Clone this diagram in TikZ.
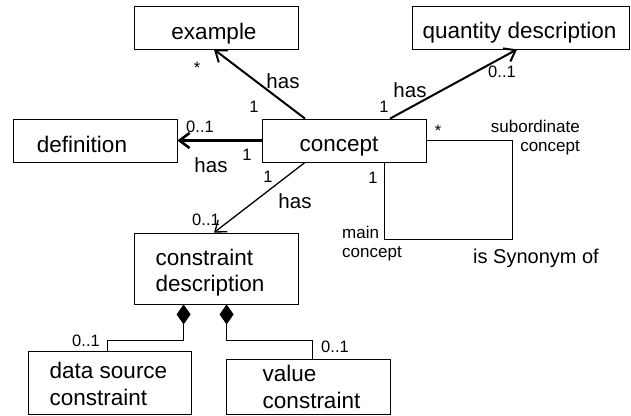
\documentclass[tikz,border=0pt]{standalone}
\usepackage{fontspec}
\setmainfont{Liberation Sans}
\usetikzlibrary{arrows.meta,calc}

% class name inside a box: #1 = twice the horizontal offset, #2 = raise of the first baseline
\newcommand\boxlabel[3]{\raisebox{#2}[0pt][0pt]{\makebox[0pt]{\hspace*{#1}\begin{tabular}[t]{@{}l@{}}#3\end{tabular}}}}

\tikzset{
  classbox/.style={draw, line width=0.8pt, minimum width=164pt, minimum height=43pt,
    inner sep=0pt, font=\fontsize{22.5}{26.7}\selectfont},
  mult/.style={font=\fontsize{16.5}{19}\selectfont, inner sep=0pt, anchor=base},
  assoclabel/.style={font=\fontsize{20.5}{24}\selectfont, inner sep=0pt, anchor=base},
  rolelabel/.style={font=\fontsize{17}{18.5}\selectfont, inner sep=0pt},
  assoc/.style={-{Straight Barb[length=10pt,width=15pt]}},
  compose/.style={{Diamond[length=20pt,width=14pt,fill=black]}-, line width=0.8pt},
}

\begin{document}
\begin{tikzpicture}[x=1pt,y=-1pt]
\useasboundingbox (0,0) rectangle (631,415);

% classes
\node[classbox] (ex) at (216,27.5) {\boxlabel{-4pt}{-11.8pt}{example}};
\node[classbox, minimum width=217pt] (qd) at (520.5,27.5) {\boxlabel{-2pt}{-11pt}{quantity description}};
\node[classbox] (def) at (95,140.5) {\boxlabel{-26pt}{-11.8pt}{definition}};
\node[classbox] (con) at (344,140.5) {\boxlabel{-10pt}{-11.2pt}{concept}};
\node[classbox, minimum height=71pt] (cd) at (216,268.5) {\boxlabel{-12pt}{3.5pt}{constraint\\description}};
\node[classbox, minimum width=163pt, minimum height=63.5pt] (ds) at (109.5,382.75) {\boxlabel{-2pt}{4.4pt}{data source\\constraint}};
\node[classbox, minimum height=55.5pt] (vc) at (308,386.75) {\boxlabel{7pt}{5pt}{value\\constraint}};

% associations of concept
\draw[assoc, line width=2pt] ($(con.north)+(-39,0)$) -- ($(ex.south)+(-2,0)$);
\draw[assoc, line width=2pt] ($(con.north)+(46,0)$) -- ($(qd.south)+(-3.5,0)$);
\draw[assoc, line width=2.6pt] (con.west) -- (def.east);
\draw[assoc, line width=1.3pt] ($(con.south)+(-39,0)$) -- ($(cd.north)+(-2,0)$);

% synonym self-association
\draw[line width=0.8pt] (con.east) -- ++(86,0) -- ++(0,98.5) -| ($(con.south)+(40,0)$);

% compositions of constraint description
\draw[compose] ($(cd.south west)+(50,0)$) -- ++(0,36) -| ($(ds.north)+(-2.5,0)$);
\draw[compose] ($(cd.south west)+(93,0)$) -- ++(0,36) -| ($(vc.north)+(4,0)$);

% association names and multiplicities
\node[mult] (mexs) at (197,73) {*};
\node[assoclabel] (hex) at (283,88) {has};
\node[mult] (mex1) at (254,112) {1};
\node[mult] (mqd1) at (384,112) {1};
\node[assoclabel] (hqd) at (410,97) {has};
\node[mult] (mqd) at (502,77) {0..1};
\node[mult] (mdef) at (200,132) {0..1};
\node[mult] (mdef1) at (247,160) {1};
\node[assoclabel] (hdef) at (211,172) {has};
\node[mult] (mcd1) at (268,182) {1};
\node[assoclabel] (hcd) at (295,208) {has};
\node[mult] (mcd) at (206,225) {0..1};
\node[mult] (mmain1) at (373,183) {1};
\node[mult] (msub) at (438,136) {*};
\node[mult] (mds) at (86,346) {0..1};
\node[mult] (mvc) at (335,352) {0..1};

% role names of the synonym association
\node[rolelabel, anchor=base east] (rsub) at (580,132.5)
  {\begin{tabular}[t]{@{}r@{}}subordinate\\concept\end{tabular}};
\node[rolelabel, anchor=base west] (rmain) at (342,238.5)
  {\begin{tabular}[t]{@{}l@{}}main\\concept\end{tabular}};
\node[font=\fontsize{20}{24}\selectfont, inner sep=0pt, anchor=base west] (syn) at (473,263) {is Synonym of};
\end{tikzpicture}
\end{document}
